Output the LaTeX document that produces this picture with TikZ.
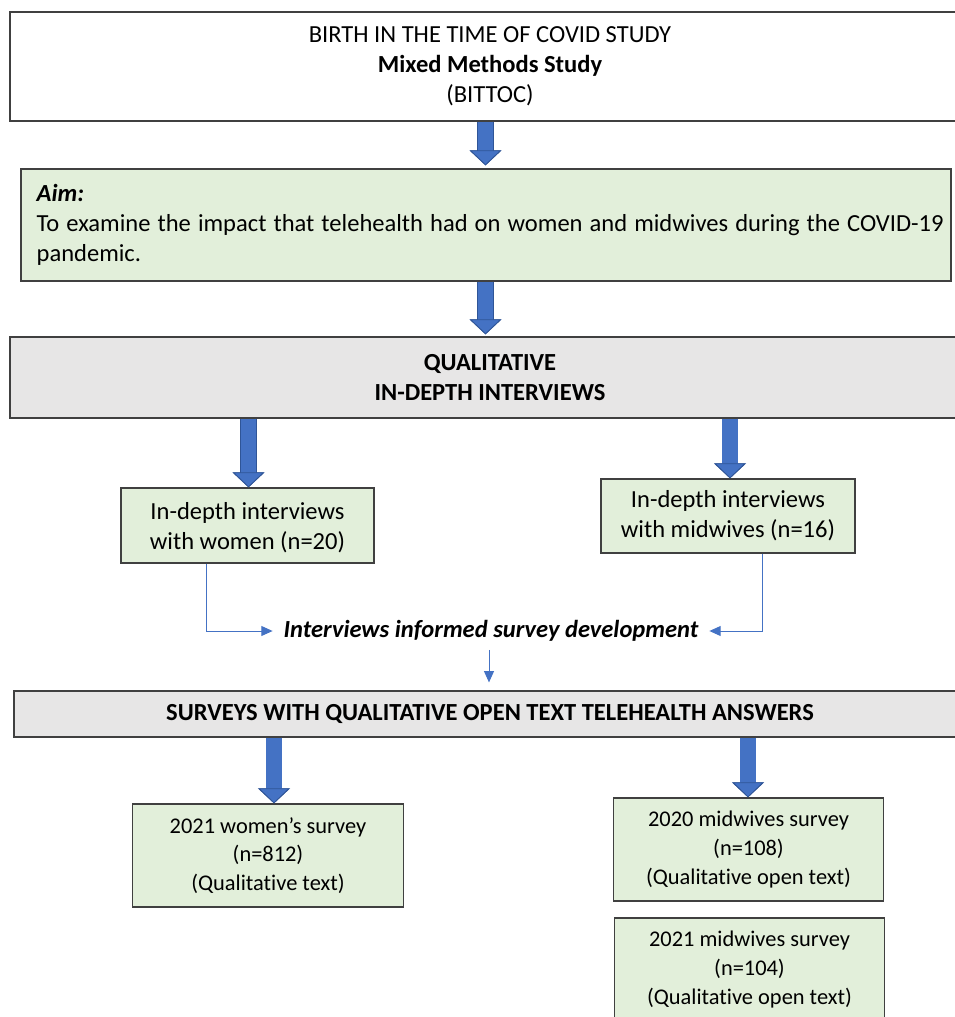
\documentclass[tikz,border=0pt]{standalone}
\usepackage{fontspec}
\setmainfont[Ligatures=NoCommon]{Carlito}
\usetikzlibrary{arrows.meta}

\definecolor{arrowblue}{HTML}{4472C4}
\definecolor{arrowedge}{HTML}{2F5597}
\definecolor{boxgreen}{HTML}{E2EFDA}
\definecolor{boxgray}{HTML}{E7E6E6}
\definecolor{boxedge}{HTML}{404040}

\newcommand{\bodyfont}{\fontsize{18.4}{22.5}\selectfont}

\tikzset{
  box/.style={draw=boxedge, line width=0.9pt, inner sep=0pt, align=center, font=\bodyfont},
  greenbox/.style={box, fill=boxgreen},
  graybox/.style={box, fill=boxgray, font=\bodyfont\bfseries},
  surveybox/.style={greenbox, minimum width=203pt, minimum height=77.25pt, font=\fontsize{16.8}{21.5}\selectfont},
  bigarrow/.style={line width=11.5pt, draw=arrowblue,
    -{Triangle[length=11.25pt,width=23.5pt,fill=arrowblue,color=arrowedge,line width=0.6pt]},
    preaction={draw=arrowedge, line width=12.7pt, -{Triangle[length=11.25pt,width=23.5pt]}}},
  thinarrow/.style={draw=arrowblue, line width=0.75pt, -{Triangle[length=8.5pt,width=7.5pt]}}
}

\begin{document}
\begin{tikzpicture}[x=0.75pt, y=-0.75pt]
        \useasboundingbox (0,0) rectangle (955,1017);

        % Coordinates
        \coordinate (A) at (485.5,0);
        \coordinate (B) at (248.5,0);
        \coordinate (C) at (730,0);
        \coordinate (D) at (274,0);
        \coordinate (E) at (748,0);
        \coordinate (F) at (206,0);
        \coordinate (G) at (762,0);
        \coordinate (H) at (489,0);

        % Boxes
        \node[box, fill=white, minimum width=720pt, minimum height=81.75pt] (title) at (490,66.5)
          {BIRTH IN THE TIME OF COVID STUDY\\\textbf{Mixed Methods Study}\\(BITTOC)};
        \node[greenbox, minimum width=697.5pt, minimum height=84pt] (aim) at (486,225) {};
        \node[anchor=west, align=left, inner sep=0pt, font=\bodyfont] (aimtext) at ([xshift=12pt]aim.west)
          {\textbf{\textit{Aim:}}\\\makebox[680.25pt][s]{To examine the impact that telehealth had on women and midwives during the COVID-19}\\pandemic.};
        \node[graybox, minimum width=720pt, minimum height=60.75pt] (qual) at (490,377.5)
          {QUALITATIVE\\IN-DEPTH INTERVIEWS};
        \node[greenbox, minimum width=189.75pt, minimum height=56.25pt, text depth=-2pt] (women) at (247.5,525.5)
          {In-depth interviews\\with women (n=20)};
        \node[greenbox, minimum width=190.5pt, minimum height=55.5pt] (midwives) at (728,516)
          {In-depth interviews\\with midwives (n=16)};
        \node[font=\bodyfont\bfseries\itshape, inner xsep=8pt, inner ysep=5pt] (informed) at (491,631)
          {Interviews informed survey development};
        \node[graybox, minimum width=714pt, minimum height=34.5pt] (surveys) at (490,714)
          {SURVEYS WITH QUALITATIVE OPEN TEXT TELEHEALTH ANSWERS};
        \node[surveybox] (swomen) at (268,855.5)
          {2021 women’s survey\\(n=812)\\(Qualitative text)};
        \node[surveybox] (smidA) at (748.5,849.5)
          {2020 midwives survey\\(n=108)\\(Qualitative open text)};
        \node[surveybox] (smidB) at (749.5,969.5)
          {2021 midwives survey\\(n=104)\\(Qualitative open text)};

        % Arrows
        \draw[bigarrow, shorten >=2.25pt] (title.south -| A) -- (aim.north -| A);
        \draw[bigarrow, shorten >=1.5pt] (aim.south -| A) -- (qual.north -| A);
        \draw[bigarrow] (qual.south -| B) -- (women.north -| B);
        \draw[bigarrow] (qual.south -| C) -- (midwives.north -| C);
        \draw[bigarrow] (surveys.south -| D) -- (swomen.north -| D);
        \draw[bigarrow] (surveys.south -| E) -- (smidA.north -| E);
        \draw[thinarrow] (women.south -| F) |- (informed.west);
        \draw[thinarrow] (midwives.south -| G) |- (informed.east);
        \draw[thinarrow, shorten <=1pt, shorten >=6pt] (informed.south -| H) -- (surveys.north -| H);
\end{tikzpicture}
\end{document}
